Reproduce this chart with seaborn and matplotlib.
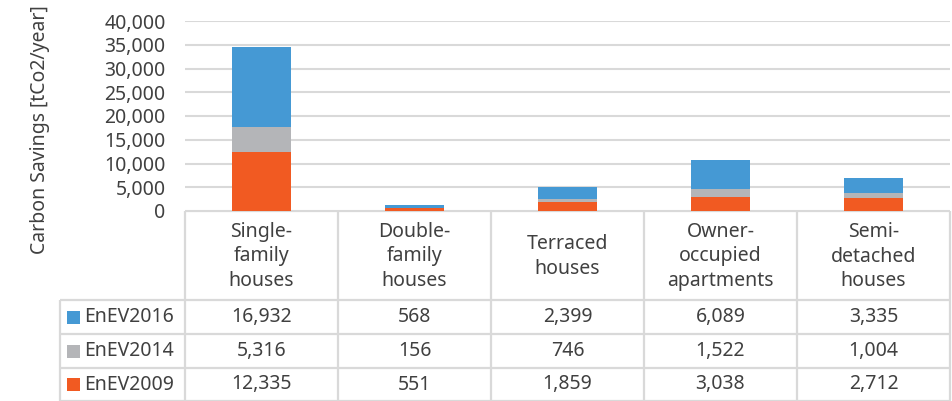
import numpy as np
import pandas as pd
import matplotlib
matplotlib.use('Agg')
import matplotlib.pyplot as plt
import seaborn as sns

# data
categories = ['Single-\nfamily\nhouses', 'Double-\nfamily\nhouses', 'Terraced\nhouses',
              'Owner-\noccupied\napartments', 'Semi-\ndetached\nhouses']
enev2009 = [12335, 551, 1859, 3038, 2712]
enev2014 = [5316, 156, 746, 1522, 1004]
enev2016 = [16932, 568, 2399, 6089, 3335]
series_names = ['EnEV2016', 'EnEV2014', 'EnEV2009']
colors = {'EnEV2009': '#f15a22', 'EnEV2014': '#b4b5b8', 'EnEV2016': '#4599d4'}
yticks = [0, 5000, 10000, 15000, 20000, 25000, 30000, 35000, 40000]

sns.set_theme(style='white')
plt.rcParams['font.family'] = ['Noto Sans', 'DejaVu Sans']
txt_col = '#404040'
grid_col = '#d9d9d9'
fs = 14

W, H = 953, 401
fig = plt.figure(figsize=(W / 100, H / 100), dpi=100)

# bar area (pixel layout of the reference)
x0, x1, y_top, y_base = 185, 950, 21, 211
ax = fig.add_axes([x0 / W, 1 - y_base / H, (x1 - x0) / W, (y_base - y_top) / H])

df = pd.DataFrame({'category': categories, 'EnEV2009': enev2009,
                   'EnEV2014': enev2014, 'EnEV2016': enev2016})
bottom = np.zeros(len(df))
for name in ['EnEV2009', 'EnEV2014', 'EnEV2016']:
    sns.barplot(ax=ax, data=df, x='category', y=name, bottom=bottom,
                color=colors[name], width=0.39, saturation=1, linewidth=0)
    bottom = bottom + df[name].values

ax.set_ylim(0, 40000)
ax.set_xlim(-0.5, len(categories) - 0.5)
ax.set_yticks(yticks)
ax.set_yticklabels([f'{v:,}' for v in yticks], fontsize=fs, color=txt_col)
ax.set_xticks([])
ax.set_xlabel('')
ax.set_ylabel('')
ax.tick_params(axis='y', length=0, pad=14)
ax.yaxis.grid(True, color=grid_col, linewidth=1.5)
ax.set_axisbelow(True)
for s in ax.spines.values():
    s.set_visible(False)

fig.text(40 / W, 1 - 130 / H, 'Carbon Savings [tCo2/year]', rotation=90,
         ha='center', va='center', fontsize=fs, color=txt_col)

# data table below the bars, drawn in pixel coordinates
tab = fig.add_axes([0, 0, 1, 1 - y_base / H])
tab.set_xlim(0, W)
tab.set_ylim(H, y_base)
tab.axis('off')

col_edges = [185, 338, 491, 644, 797, 950]
row_edges = [211, 300, 334, 368, 401]
lw = 1.6
tab.hlines(row_edges[0], col_edges[0], col_edges[-1], color=grid_col, lw=lw)
for y in row_edges[1:]:
    tab.hlines(y, 60, col_edges[-1], color=grid_col, lw=lw)
for x in col_edges:
    tab.vlines(x, row_edges[0], H, color=grid_col, lw=lw)
tab.vlines(60, row_edges[1], H, color=grid_col, lw=lw)

centers = [(a + b) / 2 for a, b in zip(col_edges[:-1], col_edges[1:])]
for cx, lab in zip(centers, categories):
    tab.text(cx, (row_edges[0] + row_edges[1]) / 2 + 1, lab, ha='center', va='center',
             fontsize=fs, color=txt_col, linespacing=1.3)

rows = {'EnEV2016': enev2016, 'EnEV2014': enev2014, 'EnEV2009': enev2009}
for i, name in enumerate(series_names):
    cy = (row_edges[i + 1] + row_edges[i + 2]) / 2
    tab.add_patch(plt.Rectangle((67, cy - 6.5), 13, 13, color=colors[name], lw=0))
    tab.text(84, cy, name, ha='left', va='center', fontsize=fs, color=txt_col)
    for cx, v in zip(centers, rows[name]):
        tab.text(cx, cy, f'{v:,}', ha='center', va='center', fontsize=fs, color=txt_col)

fig.savefig('out.png', dpi=100)
